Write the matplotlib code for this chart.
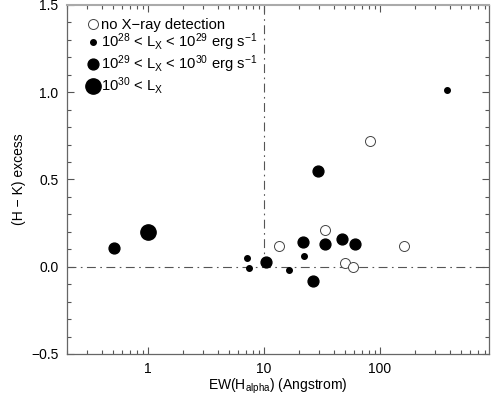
import matplotlib
matplotlib.use("Agg")
import matplotlib.pyplot as plt
from matplotlib.ticker import FixedLocator, MultipleLocator, FuncFormatter, LogLocator, NullFormatter

plt.rcParams['font.family'] = ['Liberation Sans', 'DejaVu Sans']
plt.rcParams['mathtext.default'] = 'regular'

# no X-ray detection (open circles)
ew_none = [13.5, 33.6, 50.2, 58.9, 82.5, 161]
hk_none = [0.12, 0.21, 0.02, 0.00, 0.72, 0.12]
# 1e28 < Lx < 1e29 (small filled)
ew_low = [7.2, 7.35, 16.3, 22.0, 380]
hk_low = [0.05, -0.01, -0.02, 0.06, 1.01]
# 1e29 < Lx < 1e30 (medium filled)
ew_mid = [0.51, 10.3, 21.7, 26.3, 29.2, 33.4, 47.3, 60.5]
hk_mid = [0.11, 0.03, 0.14, -0.08, 0.55, 0.13, 0.16, 0.13]
# 1e30 < Lx (large filled)
ew_high = [1.0]
hk_high = [0.20]

labels = ["no X\u2212ray detection",
          r"10$^{28}$ < L$_X$ < 10$^{29}$ erg s$^{-1}$",
          r"10$^{29}$ < L$_X$ < 10$^{30}$ erg s$^{-1}$",
          r"10$^{30}$ < L$_X$"]

fig = plt.figure(figsize=(4.92, 3.99), dpi=100)
ax = fig.add_axes([0.136, 0.1128, 0.858, 0.8747])

ax.axhline(0.0, color='#555555', lw=0.8, ls=(0, (8, 4, 1.5, 4)), zorder=1)
ax.plot([10, 10], [0.0, 1.5], color='#555555', lw=0.8, ls=(0, (8, 4, 1.5, 4)), zorder=1)

ax.plot(ew_none, hk_none, 'o', ms=7.2, mfc='white', mec='#444444', mew=0.7, ls='none', label=labels[0], zorder=3)
ax.plot(ew_low, hk_low, 'o', ms=4.0, color='black', ls='none', label=labels[1], zorder=3)
ax.plot(ew_mid, hk_mid, 'o', ms=7.8, color='black', ls='none', label=labels[2], zorder=3)
ax.plot(ew_high, hk_high, 'o', ms=11.0, color='black', ls='none', label=labels[3], zorder=3)

ax.set_xscale('log')
ax.set_xlim(0.2, 870)
ax.set_ylim(-0.5, 1.5)

ax.xaxis.set_major_locator(FixedLocator([1, 10, 100]))
ax.xaxis.set_major_formatter(FuncFormatter(lambda v, p: f"{v:g}"))
ax.xaxis.set_minor_locator(LogLocator(base=10, subs=range(2, 10), numticks=20))
ax.xaxis.set_minor_formatter(NullFormatter())
ax.yaxis.set_major_locator(MultipleLocator(0.5))
ax.yaxis.set_minor_locator(MultipleLocator(0.1))
ax.yaxis.set_major_formatter(FuncFormatter(lambda v, p: f"{v:.1f}".replace('-', '\u2212')))

ax.tick_params(which='both', direction='in', top=True, right=True, colors='#555555',
               labelcolor='black', labelsize=10, width=0.8)
ax.tick_params(which='major', length=5, pad=6)
ax.tick_params(which='minor', length=3)
for s in ax.spines.values():
    s.set_color('#666666')
    s.set_linewidth(0.9)
ax.spines['top'].set_color('#aaaaaa')
ax.spines['top'].set_linewidth(1.5)

ax.set_xlabel(r"EW(H$_{alpha}$) (Angstrom)", fontsize=10, labelpad=0)
ax.set_ylabel("(H \u2212 K) excess", fontsize=10, labelpad=4)

leg = ax.legend(loc='upper left', frameon=False, fontsize=10.6, handletextpad=0.2,
                handlelength=0.8, borderaxespad=0.0, labelspacing=0.0,
                bbox_to_anchor=(0.033, 0.98))

fig.savefig("out.png", dpi=100)
